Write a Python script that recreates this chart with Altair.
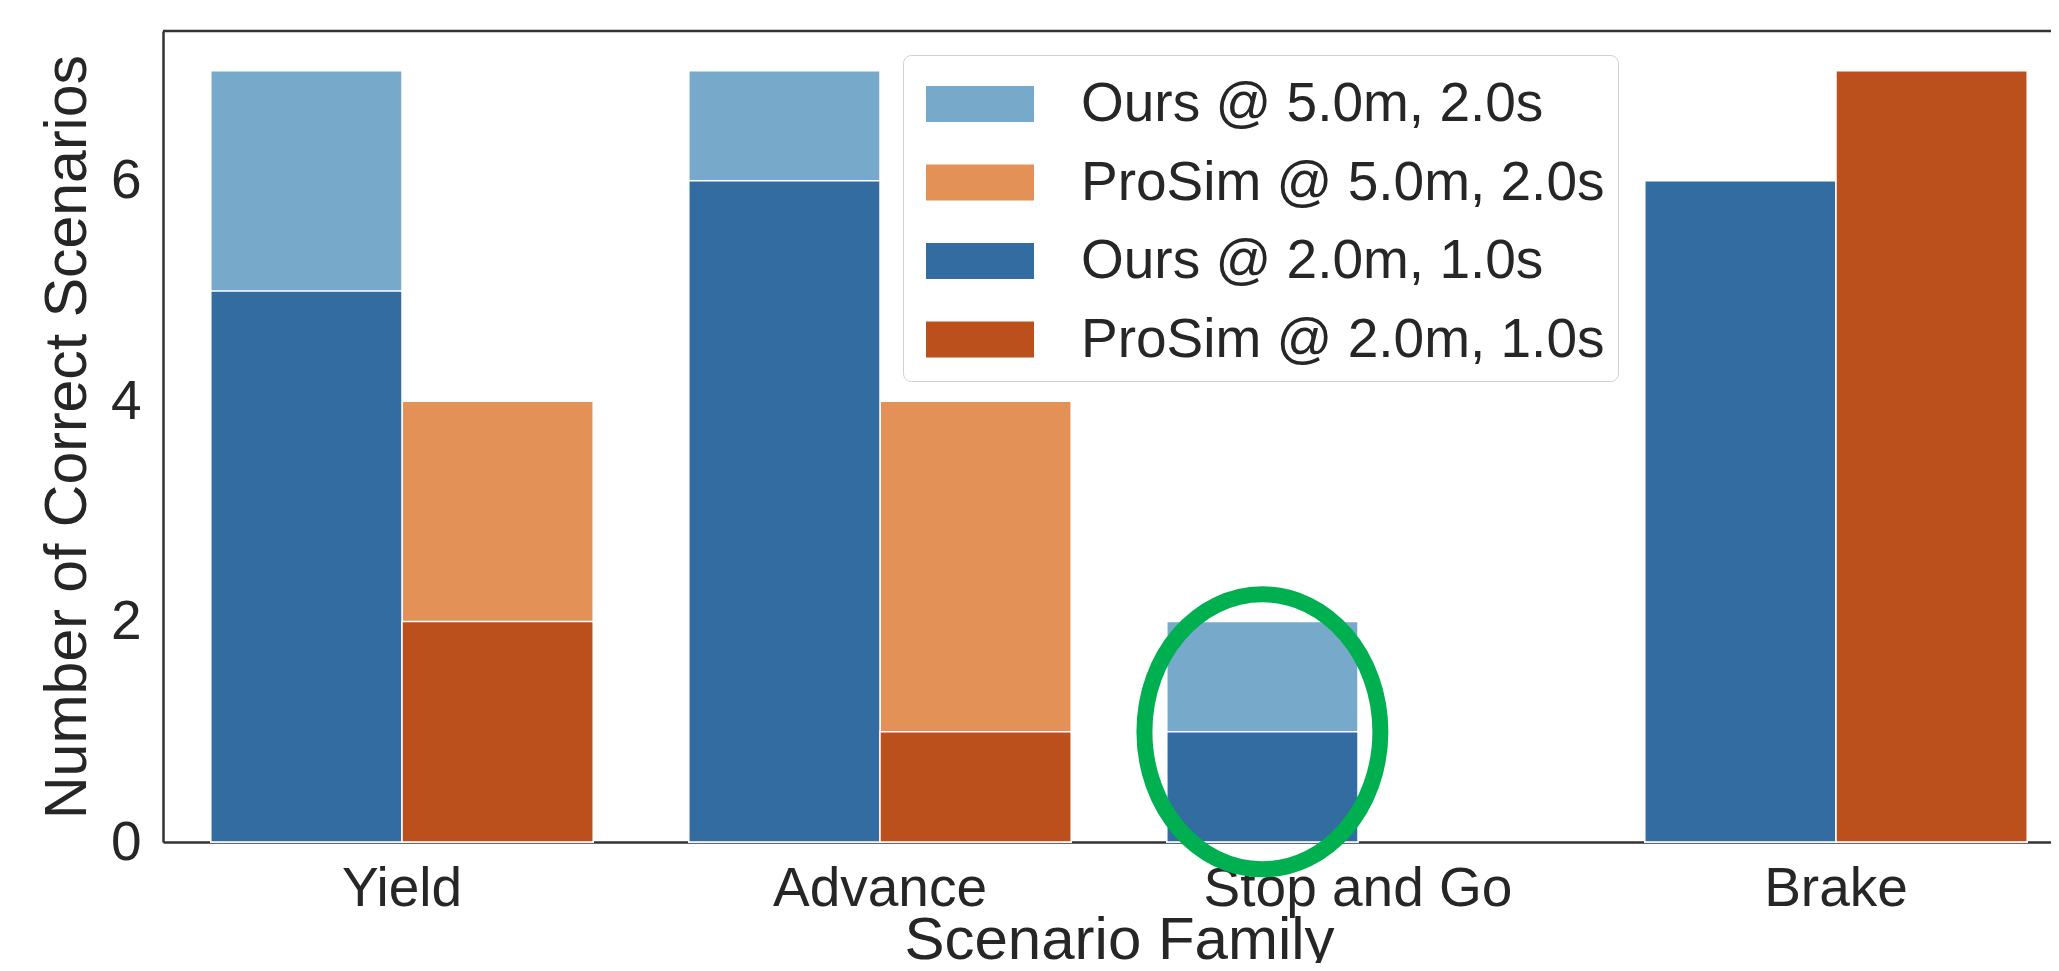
import altair as alt
import pandas as pd

# ---- data ----
families = ["Yield", "Advance", "Stop and Go", "Brake"]
methods = ["Ours", "ProSim"]
series_labels = [
    "Ours @ 5.0m, 2.0s",
    "ProSim @ 5.0m, 2.0s",
    "Ours @ 2.0m, 1.0s",
    "ProSim @ 2.0m, 1.0s",
]
ours_loose = [7, 7, 2, 6]      # Ours @ 5.0m, 2.0s
prosim_loose = [4, 4, 0, 7]    # ProSim @ 5.0m, 2.0s
ours_strict = [5, 6, 1, 6]     # Ours @ 2.0m, 1.0s
prosim_strict = [2, 1, 0, 7]   # ProSim @ 2.0m, 1.0s
colors = ["#77a9ca", "#e49157", "#326ca0", "#bb501c"]
y_ticks = [0, 2, 4, 6]
highlight_family = ["Stop and Go"]
highlight_method = ["Ours"]
highlight_value = [1]

rows = []
for i, fam in enumerate(families):
    rows.append(dict(family=fam, method="Ours", value=ours_loose[i], series=series_labels[0], level="loose"))
    rows.append(dict(family=fam, method="ProSim", value=prosim_loose[i], series=series_labels[1], level="loose"))
    rows.append(dict(family=fam, method="Ours", value=ours_strict[i], series=series_labels[2], level="strict"))
    rows.append(dict(family=fam, method="ProSim", value=prosim_strict[i], series=series_labels[3], level="strict"))
df = pd.DataFrame(rows)

FONT = "Liberation Sans"
TXT = "#262626"
RANGE_W = 1912

x_enc = alt.X(
    "family:N",
    sort=families,
    scale=alt.Scale(domain=families, range=[0, RANGE_W], paddingInner=0.2, paddingOuter=0.1),
    axis=alt.Axis(title="Scenario Family", labelAngle=0, labelPadding=20, titlePadding=-5, labelLimit=2000),
)
xoff_enc = alt.XOffset("method:N", scale=alt.Scale(domain=methods, paddingInner=0, paddingOuter=0))
y_enc = alt.Y(
    "value:Q",
    scale=alt.Scale(domain=[0, 7.36], nice=False, zero=True),
    axis=alt.Axis(values=y_ticks, format="d", title="Number of Correct Scenarios", labelPadding=22,
                  titlePadding=13, titleFontSize=59),
)

legend_symbol = "M-0.722,-0.5H2.278V0.5H-0.722Z"
color_enc = alt.Color(
    "series:N",
    sort=series_labels,
    scale=alt.Scale(domain=series_labels, range=colors),
    legend=alt.Legend(
        title=None,
        orient="none",
        legendX=740,
        legendY=24,
        symbolType=legend_symbol,
        symbolSize=72 * 72,
        symbolStrokeWidth=0,
        symbolOpacity=1,
        labelFont=FONT,
        labelFontSize=55,
        labelColor=TXT,
        labelOffset=93,
        labelLimit=2000,
        padding=13,
        rowPadding=14.5,
        strokeColor="#d0d0d0",
        fillColor="white",
        cornerRadius=8,
    ),
)

base = alt.Chart(df)
loose = base.transform_filter("datum.level == 'loose' && datum.value > 0").mark_bar(
    stroke="white", strokeWidth=1.5
).encode(x=x_enc, xOffset=xoff_enc, y=y_enc, color=color_enc)
strict = base.transform_filter("datum.level == 'strict' && datum.value > 0").mark_bar(
    stroke="white", strokeWidth=1.5
).encode(x=x_enc, xOffset=xoff_enc, y=y_enc, color=color_enc)

top_spine = alt.Chart(pd.DataFrame({"k": [0]})).mark_rule(color="#333333", strokeWidth=2.5).encode(
    x=alt.value(0), x2=alt.value(RANGE_W), y=alt.value(0)
)

hl = pd.DataFrame({"family": highlight_family, "method": highlight_method, "value": highlight_value})
ellipse_path = "M0,-1A0.858,1,0,1,1,0,1A0.858,1,0,1,1,0,-1Z"
ellipse = alt.Chart(hl).mark_point(
    shape=ellipse_path, size=275 * 275, filled=False, stroke="#00b050", strokeWidth=16, opacity=1
).encode(x=alt.X("family:N", sort=families), xOffset=alt.XOffset("method:N"), y=alt.Y("value:Q"))

chart = (
    alt.layer(loose, strict, top_spine, ellipse)
    .properties(
        width=1888,
        height=811,
        autosize=alt.AutoSizeParams(type="none"),
        padding={"left": 155, "top": 23, "right": 0, "bottom": 121},
    )
    .configure_view(stroke=None)
    .configure_axis(
        domainColor="#333333",
        domainWidth=2.5,
        ticks=False,
        grid=False,
        labelFont=FONT,
        labelFontSize=55,
        labelColor=TXT,
        titleFont=FONT,
        titleFontSize=60,
        titleColor=TXT,
        titleFontWeight="normal",
        zindex=1,
    )
)

chart.save("out.html", embed_options={"renderer": "svg", "actions": False})
